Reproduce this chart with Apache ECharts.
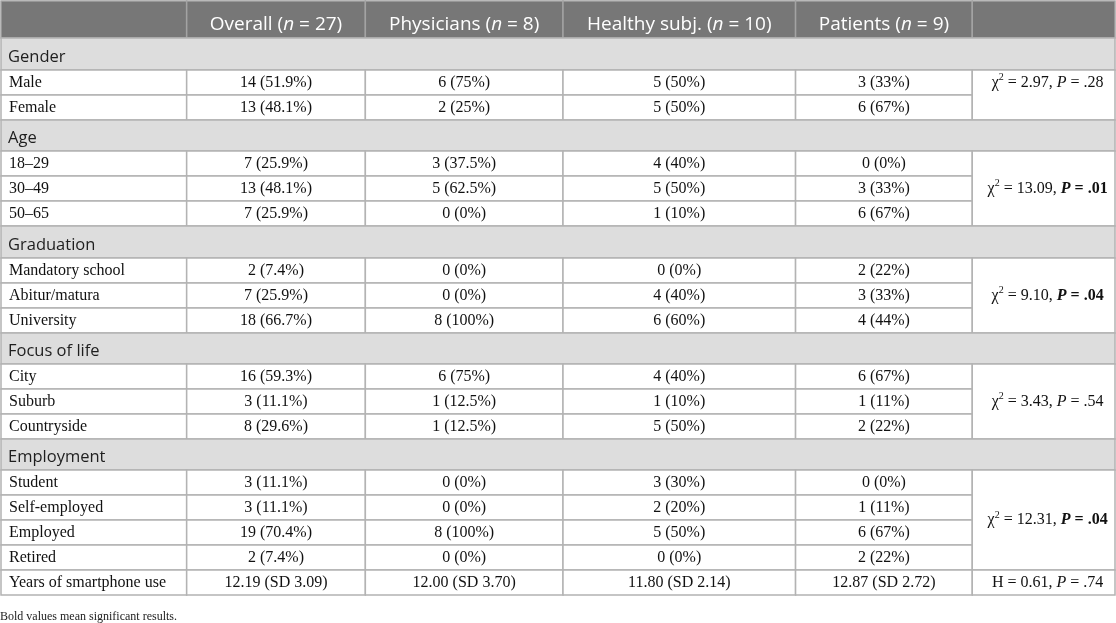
<!DOCTYPE html>
<html><head><meta charset="utf-8">
<script src="https://cdn.jsdelivr.net/npm/echarts@6/dist/echarts.min.js"></script>
<style>html,body{margin:0;padding:0;background:#fff}#c{width:1116px;height:623px}</style>
</head><body><div id="c"></div>
<script>
// ---------- data ----------
const headerNames = ['', 'Overall', 'Physicians', 'Healthy subj.', 'Patients', ''];
const headerN = [null, 27, 8, 10, 9, null];
const groupNames = ['Gender', 'Age', 'Graduation', 'Focus of life', 'Employment'];
const groupRowLabels = [
  ['Male', 'Female'],
  ['18–29', '30–49', '50–65'],
  ['Mandatory school', 'Abitur/matura', 'University'],
  ['City', 'Suburb', 'Countryside'],
  ['Student', 'Self-employed', 'Employed', 'Retired']
];
const overallN   = [14, 13, 7, 13, 7, 2, 7, 18, 16, 3, 8, 3, 3, 19, 2];
const overallPct = [51.9, 48.1, 25.9, 48.1, 25.9, 7.4, 25.9, 66.7, 59.3, 11.1, 29.6, 11.1, 11.1, 70.4, 7.4];
const physN      = [6, 2, 3, 5, 0, 0, 0, 8, 6, 1, 1, 0, 0, 8, 0];
const physPct    = [75, 25, 37.5, 62.5, 0, 0, 0, 100, 75, 12.5, 12.5, 0, 0, 100, 0];
const healthyN   = [5, 5, 4, 5, 1, 0, 4, 6, 4, 1, 5, 3, 2, 5, 0];
const healthyPct = [50, 50, 40, 50, 10, 0, 40, 60, 40, 10, 50, 30, 20, 50, 0];
const patientN   = [3, 6, 0, 3, 6, 2, 3, 4, 6, 1, 2, 0, 1, 6, 2];
const patientPct = [33, 67, 0, 33, 67, 22, 33, 44, 67, 11, 22, 0, 11, 67, 22];
const chiSquare  = [2.97, 13.09, 9.10, 3.43, 12.31];
const pValues    = ['.28', '.01', '.04', '.54', '.04'];
const significant = [false, true, true, false, true];
const smartphoneLabel = 'Years of smartphone use';
const smartphoneMean = [12.19, 12.00, 11.80, 12.87];
const smartphoneSD   = [3.09, 3.70, 2.14, 2.72];
const smartphoneH = 0.61;
const smartphoneP = '.74';
const footnote = 'Bold values mean significant results.';

// ---------- layout ----------
const COL_W = [186, 179, 198, 233, 177, 143];
const HEADER_H = 37, ROW_H = 25;
const GROUP_H = [32, 31, 32, 31, 31];
const TEST_VALIGN = ['top', 'middle', 'middle', 'middle', 'middle'];
const SANS = 'Open Sans', SERIF = 'Liberation Serif';

const colX = [0];
COL_W.forEach(w => colX.push(colX[colX.length - 1] + w));
const TOTAL_W = colX[colX.length - 1];

const cells = [];
function add(x0, y0, x1, y1, kind, text, tx, ty) {
  cells.push({ value: [x0, y0, x1, y1, tx, ty], kind: kind, text: text });
}
let y = 0;
// header
for (let c = 0; c < 6; c++) {
  const t = headerN[c] == null ? '' : headerNames[c] + ' ({i|n} = ' + headerN[c] + ')';
  add(colX[c], y, colX[c + 1], y + HEADER_H, 'header', t, (colX[c] + colX[c + 1]) / 2, y + HEADER_H / 2);
}
y += HEADER_H;
let k = 0;
const valCols = [[overallN, overallPct], [physN, physPct], [healthyN, healthyPct], [patientN, patientPct]];
groupNames.forEach((g, gi) => {
  add(0, y, TOTAL_W, y + GROUP_H[gi], 'group', g, 0, y + GROUP_H[gi] / 2);
  y += GROUP_H[gi];
  const gy0 = y;
  groupRowLabels[gi].forEach(lbl => {
    add(colX[0], y, colX[1], y + ROW_H, 'label', lbl, colX[0], y + ROW_H / 2);
    valCols.forEach((vc, j) => {
      add(colX[j + 1], y, colX[j + 2], y + ROW_H, 'value', vc[0][k] + ' (' + vc[1][k] + '%)',
          (colX[j + 1] + colX[j + 2]) / 2, y + ROW_H / 2);
    });
    y += ROW_H; k++;
  });
  const ptxt = significant[gi] ? '{bi|P}{b| = ' + pValues[gi] + '}' : '{i|P} = ' + pValues[gi];
  const tt = '{c|χ}{s|2} = ' + chiSquare[gi].toFixed(2) + ', ' + ptxt;
  const ty = TEST_VALIGN[gi] === 'top' ? gy0 + ROW_H / 2 : (gy0 + y) / 2;
  add(colX[5], gy0, colX[6], y, 'test', tt, (colX[5] + colX[6]) / 2, ty);
});
// smartphone row
add(colX[0], y, colX[1], y + ROW_H, 'label', smartphoneLabel, colX[0], y + ROW_H / 2);
smartphoneMean.forEach((m, j) => {
  add(colX[j + 1], y, colX[j + 2], y + ROW_H, 'value', m.toFixed(2) + ' (SD ' + smartphoneSD[j].toFixed(2) + ')',
      (colX[j + 1] + colX[j + 2]) / 2, y + ROW_H / 2);
});
add(colX[5], y, colX[6], y + ROW_H, 'test', 'H = ' + smartphoneH.toFixed(2) + ', {i|P} = ' + smartphoneP,
    (colX[5] + colX[6]) / 2, y + ROW_H / 2);
y += ROW_H;
const TOTAL_H = y;

const STYLE = {
  header: { fill: '#777777', stroke: '#a3a3a3', font: SANS, size: 19, color: '#ffffff', align: 'center', dx: 0, dy: 5 },
  group:  { fill: '#dddddd', stroke: '#b3b3b3', font: SANS, size: 16.5, color: '#1e1e1e', align: 'left', dx: 7, dy: 3 },
  label:  { fill: '#ffffff', stroke: '#b3b3b3', font: SERIF, size: 16, color: '#111111', align: 'left', dx: 8, dy: 0 },
  value:  { fill: '#ffffff', stroke: '#b3b3b3', font: SERIF, size: 16, color: '#111111', align: 'center', dx: 0, dy: 0 },
  test:   { fill: '#ffffff', stroke: '#b3b3b3', font: SERIF, size: 16, color: '#111111', align: 'center', dx: 4, dy: 0 }
};

const chart = echarts.init(document.getElementById('c'), null, { renderer: 'canvas' });
chart.setOption({
  animation: false,
  title: {
    text: footnote, left: 0, top: 611, padding: 0,
    textStyle: { fontFamily: SERIF, fontSize: 12, fontWeight: 'normal', color: '#222222' }
  },
  grid: { left: 1, right: 1, top: 1, bottom: 28 },
  xAxis: { type: 'value', min: 0, max: TOTAL_W, show: false },
  yAxis: { type: 'value', min: 0, max: TOTAL_H, inverse: true, show: false },
  series: [{
    type: 'custom',
    clip: false,
    data: cells.map(c => ({ value: c.value })),
    renderItem: function (params, api) {
      const cell = cells[params.dataIndex];
      const st = STYLE[cell.kind];
      const p0 = api.coord([api.value(0), api.value(1)]);
      const p1 = api.coord([api.value(2), api.value(3)]);
      const pt = api.coord([api.value(4), api.value(5)]);
      const base = { fontFamily: st.font, fontSize: st.size, fill: st.color };
      return {
        type: 'group',
        children: [
          { type: 'rect', shape: { x: p0[0], y: p0[1], width: p1[0] - p0[0], height: p1[1] - p0[1] },
            style: { fill: st.fill, stroke: st.stroke, lineWidth: 1.5 } },
          { type: 'text', x: pt[0] + st.dx, y: pt[1] + st.dy,
            style: {
              text: cell.text, fontFamily: st.font, fontSize: st.size, fill: st.color,
              align: st.align, verticalAlign: 'middle', lineHeight: cell.kind === 'test' ? 20 : undefined,
              rich: {
                i:  Object.assign({}, base, { fontStyle: 'italic' }),
                bi: Object.assign({}, base, { fontStyle: 'italic', fontWeight: 'bold' }),
                b:  Object.assign({}, base, { fontWeight: 'bold' }),
                c:  Object.assign({}, base),
                s:  Object.assign({}, base, { fontSize: 10, verticalAlign: 'top' })
              }
            } }
        ]
      };
    }
  }]
});
</script></body></html>
